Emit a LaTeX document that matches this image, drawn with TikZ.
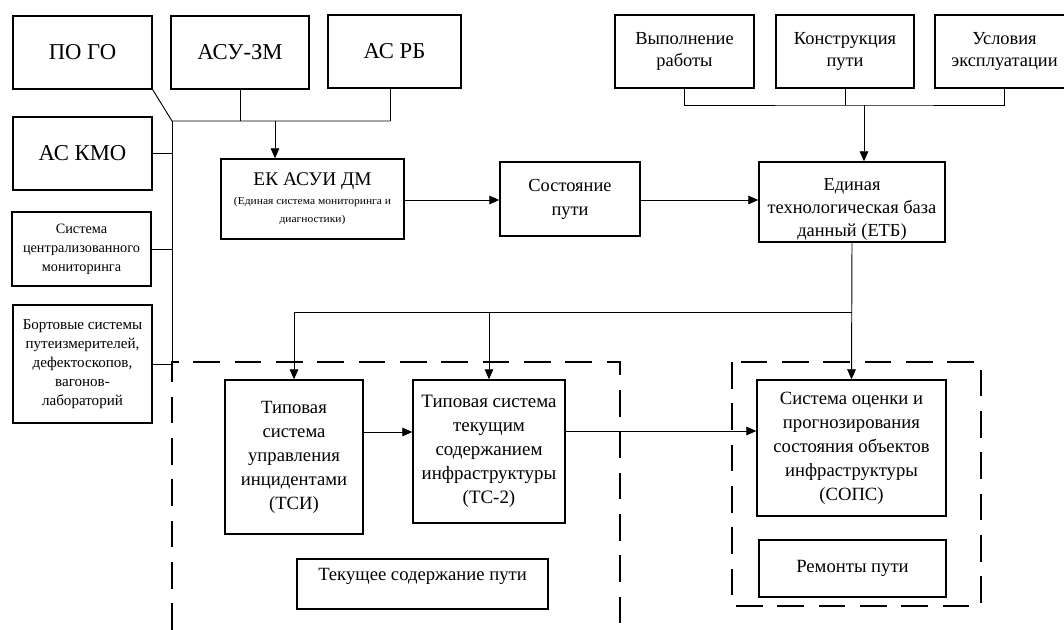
\documentclass[tikz,border=0pt]{standalone}
\usepackage{fontspec}
\setmainfont{Liberation Serif}
\usepackage{graphicx}
\usetikzlibrary{arrows.meta}
\newcommand{\setfs}[2]{\fontsize{#1}{#2}\selectfont}
\tikzset{
  blk/.style={draw, line width=1.1pt, align=center, inner sep=1pt},
  ln/.style={line width=0.7pt},
  arr/.style={ln, -{Triangle[length=7.5pt,width=6.5pt]}},
  dbox/.style={line width=0.8pt, dash pattern=on 20pt off 11pt}
}
\begin{document}
\begin{tikzpicture}[x=0.75pt,y=-0.75pt]
  \useasboundingbox (0,0) rectangle (1064,630);

  \node[blk, minimum width=104.25pt, minimum height=54.75pt, font=\setfs{17}{20}] (pogo) at (82.5,52.5) {ПО ГО};
  \node[blk, minimum width=103.5pt, minimum height=54.75pt, font=\setfs{17}{20}] (asuzm) at (240,52.5) {АСУ-ЗМ};
  \node[blk, minimum width=99.75pt, minimum height=54.75pt, font=\setfs{17}{20}] (asrb) at (394.5,51.5) {АС РБ};
  \node[blk, minimum width=104.25pt, minimum height=54.75pt, font=\setfs{17}{20}] (askmo) at (82.5,153.5) {АС КМО};
  \node[blk, minimum width=104.25pt, minimum height=55.5pt, font=\setfs{10.7}{14.25}] (scm) at (81.5,249) {Система\\централизованного\\мониторинга};
  \node[blk, minimum width=104.25pt, minimum height=88.5pt, font=\setfs{11.3}{14.25}] (bort) at (82.5,364) {Бортовые системы\\путеизмерителей,\\дефектоскопов,\\вагонов-\\лабораторий};

  \node[blk, minimum width=137.25pt, minimum height=60pt, font=\setfs{14.5}{14}] (ekasui) at (312.5,199)
    {ЕК АСУИ ДМ\\\setfs{8}{11}\scalebox{1.08}[1]{(Единая система мониторинга и}\\\setfs{8}{11}\scalebox{1.08}[1]{диагностики)}};
  \node[blk, minimum width=105pt, minimum height=55.5pt, font=\setfs{13.8}{18}] (sost) at (570,199) {Состояние\\пути};

  \node[blk, minimum width=104.25pt, minimum height=54.75pt, font=\setfs{13.8}{16.3}] (vyp) at (684.5,51.5) {Выполнение\\работы};
  \node[blk, minimum width=103.5pt, minimum height=54.75pt, font=\setfs{13.8}{16.3}] (konstr) at (845,51.5) {Конструкция\\пути};
  \node[blk, minimum width=104.25pt, minimum height=54.75pt, font=\setfs{13.8}{16.3}] (usl) at (1004.5,51.5) {Условия\\эксплуатации};
  \node[blk, minimum width=139.5pt, minimum height=60pt, font=\setfs{13.8}{17.3}] (etb) at (852,202)
    {\raisebox{-5pt}[\height][\depth]{\begin{tabular}{@{}c@{}}Единая\\технологическая база\\данный (ЕТБ)\end{tabular}}};

  \node[blk, minimum width=103.5pt, minimum height=115.5pt, font=\setfs{14}{18}] (tsi) at (294,457) {Типовая\\система\\управления\\инцидентами\\(ТСИ)};
  \node[blk, minimum width=114pt, minimum height=107.25pt, font=\setfs{14.2}{18}] (ts2) at (489,451.5) {Типовая система\\текущим\\содержанием\\инфраструктуры\\(ТС-2)};
  \node[blk, minimum width=188.25pt, minimum height=37.5pt, font=\setfs{14}{18}] (tekush) at (422.5,584) {\raisebox{6pt}[\height][\depth]{Текущее содержание пути}};
  \node[blk, minimum width=141.75pt, minimum height=102pt, font=\setfs{14}{18}] (sops) at (851.5,448) {Система оценки и\\прогнозирования\\состояния объектов\\инфраструктуры\\(СОПС)};
  \node[blk, minimum width=140.25pt, minimum height=42.75pt, font=\setfs{14}{18}] (remont) at (852.5,568.5) {Ремонты пути};

  \coordinate (bj) at (172,121);
  \coordinate (bjR) at (390,121);
  \coordinate (bjA) at (275,121);
  \coordinate (tb) at (864,105);
  \coordinate (etbD) at (852,312);

  \draw[ln] (pogo.south east) -- (bj) -- (bjR);
  \draw[ln] (asuzm.south) -- (asuzm.south |- bj);
  \draw[ln] (asrb.south -| bjR) -- (bjR);
  \draw[arr] (bjA) -- (bjA |- ekasui.north);
  \draw[ln] (bj) -- (bj |- bort.east);
  \draw[ln] (askmo.east) -- (askmo.east -| bj);
  \draw[ln] (scm.east) -- (scm.east -| bj);
  \draw[ln] (bort.east) -- (bort.east -| bj);

  \draw[arr] (ekasui.east |- 0,200) -- (sost.west |- 0,200);
  \draw[arr] (sost.east |- 0,200) -- (etb.west |- 0,200);

  \draw[ln] (vyp.south) |- (tb) -| (usl.south);
  \draw[ln] (konstr.south) -- (konstr.south |- tb);
  \draw[arr] (tb) -- (tb |- etb.north);

  \draw[arr] (etb.south) -- (sops.north);
  \draw[arr] (etbD) -| (tsi.north);
  \draw[arr] (etbD -| ts2.north) -- (ts2.north);
  \draw[arr] (tsi.east |- 0,432) -- (ts2.west |- 0,432);
  \draw[arr] (ts2.east |- 0,431) -- (sops.west |- 0,431);

  \draw[dbox] (172,630) -- (172,362) -- (620,362) -- (620,630);
  \draw[dbox] (732,362) rectangle (981,606);
\end{tikzpicture}
\end{document}
